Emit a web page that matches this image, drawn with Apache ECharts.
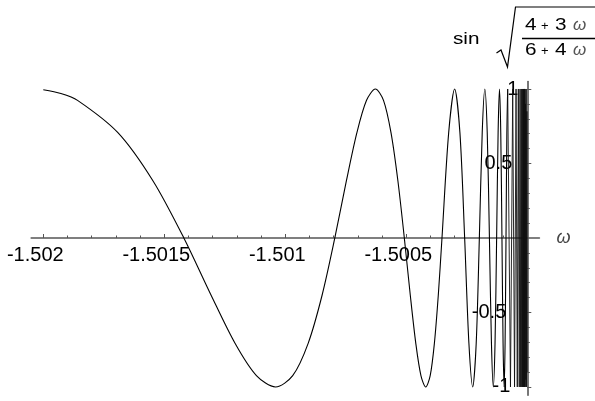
<!DOCTYPE html>
<html>
<head>
<meta charset="utf-8">
<script src="https://cdn.jsdelivr.net/npm/echarts@6/dist/echarts.min.js"></script>
<style>
  html, body { margin: 0; padding: 0; background: #fff; }
  #chart { width: 595px; height: 401px; }
</style>
</head>
<body>
<div id="chart"></div>
<script>
// Sample points of sin(sqrt((4+3w)/(6+4w))) as w runs from -1.502 up towards -1.5
const omega = [
  -1.502, -1.50192723, -1.50185853, -1.50169173, -1.50154648, -1.50141922,
  -1.50130708, -1.50120776, -1.50111936, -1.50104034, -1.50096942, -1.50090553,
  -1.50084775, -1.50079535, -1.50074766, -1.50070414, -1.50066433, -1.5006278,
  -1.5005942, -1.50056323, -1.50053463, -1.50050815, -1.50048359, -1.50046078,
  -1.50043954, -1.50041974, -1.50040125, -1.50038395, -1.50036775, -1.50035255,
  -1.50032486, -1.50030031, -1.50027844, -1.50025888, -1.5002413, -1.50022546,
  -1.50021113, -1.50019813, -1.50018629, -1.50017548, -1.50016559, -1.50015651,
  -1.50014815, -1.50014045, -1.50013334, -1.50012675, -1.50012064, -1.50011496,
  -1.50010967, -1.50010474, -1.50010013, -1.50009582, -1.50009179, -1.500088,
  -1.50008444, -1.5000811,
  -1.50006952, -1.50006026, -1.50005273, -1.50004653, -1.50004137, -1.50003701,
  -1.50003331, -1.50003014, -1.5000274, -1.50002502, -1.50002294, -1.5000211,
  -1.50001948, -1.50001804, -1.50001675, -1.50001559, -1.50001455, -1.50001362,
  -1.50001277, -1.50001199, -1.50001129, -1.50001064, -1.50001005, -1.50000951,
  -1.50000901,
  -1.5000075, -1.500006, -1.5000045, -1.500003, -1.5000018, -1.5000008
];
const sinValue = [
  0.9951, 0.9699, 0.9239, 0.7071, 0.3827, 0,
  -0.3827, -0.7071, -0.9239, -1, -0.9239, -0.7071,
  -0.3827, 0, 0.3827, 0.7071, 0.9239, 1,
  0.9239, 0.7071, 0.3827, 0, -0.3827, -0.7071,
  -0.9239, -1, -0.9239, -0.7071, -0.3827, 0,
  0.7071, 1, 0.7071, 0, -0.7071, -1,
  -0.7071, 0, 0.7071, 1, 0.7071, 0,
  -0.7071, -1, -0.7071, 0, 0.7071, 1,
  0.7071, 0, -0.7071, -1, -0.7071, 0,
  0.7071, 1,
  -1, 1, -1, 1, -1, 1,
  -1, 1, -1, 1, -1, 1,
  -1, 1, -1, 1, -1, 1,
  -1, 1, -1, 1, -1, 1,
  -1,
  0.9, -0.95, 1, -1, 0.85, -0.9
];
// the slow swings are drawn as a smooth curve, the crowded tail as straight strokes
const SMOOTH_END = 55;

// Axis ticks
const xMajorTicks = [-1.502, -1.5015, -1.501, -1.5005];
const xMinorTicks = [-1.5019, -1.5018, -1.5017, -1.5016, -1.5014, -1.5013, -1.5012, -1.5011,
                     -1.5009, -1.5008, -1.5007, -1.5006, -1.5004, -1.5003, -1.5002, -1.5001];
const yMajorTicks = [-1, -0.5, 0.5, 1];
const yMinorTicks = [-0.9, -0.8, -0.7, -0.6, -0.4, -0.3, -0.2, -0.1,
                     0.1, 0.2, 0.3, 0.4, 0.6, 0.7, 0.8, 0.9];

const FONT = '"Liberation Sans", Arial, Helvetica, sans-serif';
const AXIS_COLOR = '#555';
const X_MIN = -1.50205, X_MAX = -1.49995;
const Y_MIN = -1.055, Y_MAX = 1.05;

// plot box: the horizontal axis lives in its own grid whose bottom edge is y = 0
const PLOT = { left: 31.2, top: 81.55, width: 508.2, height: 313.6 };
const ZERO_Y_OFFSET = 156.45;

// extra right padding per y label
const yLabelShift = { '1': 0, '0.5': 6, '-0.5': 12, '-1': 8 };
const yRich = {};
Object.keys(yLabelShift).forEach(function (k) {
  yRich['s' + yLabelShift[k]] = {
    fontSize: 20, fontFamily: FONT, color: '#000',
    padding: [0, yLabelShift[k], 0, 0]
  };
});

const points = omega.map(function (w, i) { return [w, sinValue[i]]; });

const chart = echarts.init(document.getElementById('chart'), null, { renderer: 'canvas' });

const baseX = {
  type: 'value', min: X_MIN, max: X_MAX,
  splitLine: { show: false }
};
const baseY = {
  type: 'value', min: Y_MIN, max: Y_MAX, position: 'right', offset: -12.1,
  splitLine: { show: false },
  axisLine: { onZero: false, lineStyle: { color: AXIS_COLOR, width: 1.6 } }
};

chart.setOption({
  animation: false,
  backgroundColor: '#fff',
  grid: [
    Object.assign({ outerBoundsMode: 'none', containLabel: false }, PLOT),
    { outerBoundsMode: 'none', containLabel: false,
      left: PLOT.left, top: PLOT.top, width: PLOT.width, height: ZERO_Y_OFFSET }
  ],
  xAxis: [
    // series axis in the main grid (not drawn)
    Object.assign({}, baseX, { gridIndex: 0, show: false }),
    // horizontal axis with labels, sitting on y = 0
    Object.assign({}, baseX, {
      gridIndex: 1, position: 'bottom',
      name: 'ω', nameLocation: 'end', nameGap: 17,
      nameTextStyle: { fontFamily: FONT, fontSize: 18, fontStyle: 'italic', color: '#444', padding: [4, 0, 0, 0] },
      axisLine: { show: true, onZero: false, lineStyle: { color: AXIS_COLOR, width: 1.6 } },
      axisTick: { show: true, inside: true, length: 4, customValues: xMajorTicks,
                  lineStyle: { color: AXIS_COLOR, width: 1 } },
      axisLabel: { show: true, customValues: xMajorTicks, margin: 7,
                   fontFamily: FONT, fontSize: 20, color: '#000', padding: [0, 16, 0, 0] }
    }),
    // minor ticks on the same line
    Object.assign({}, baseX, {
      gridIndex: 1, position: 'bottom',
      axisLine: { show: false, onZero: false },
      axisTick: { show: true, inside: true, length: 2.5, customValues: xMinorTicks,
                  lineStyle: { color: AXIS_COLOR, width: 1 } },
      axisLabel: { show: false }
    })
  ],
  yAxis: [
    Object.assign({}, baseY, {
      gridIndex: 0,
      axisTick: { show: true, inside: false, length: 4, customValues: yMajorTicks,
                  lineStyle: { color: AXIS_COLOR, width: 1 } },
      axisLabel: {
        show: true, inside: true, margin: 9, customValues: yMajorTicks,
        fontFamily: FONT, fontSize: 20, color: '#000',
        formatter: function (v) {
          const t = String(v);
          return '{s' + yLabelShift[t] + '|' + t + '}';
        },
        rich: yRich
      }
    }),
    Object.assign({}, baseY, {
      gridIndex: 0,
      axisLine: { show: false },
      axisTick: { show: true, inside: false, length: 2.5, customValues: yMinorTicks,
                  lineStyle: { color: AXIS_COLOR, width: 1 } },
      axisLabel: { show: false }
    }),
    // placeholder for the axis grid
    { type: 'value', gridIndex: 1, min: 0, max: 1, show: false }
  ],
  series: [
    {
      type: 'line', xAxisIndex: 0, yAxisIndex: 0,
      data: points.slice(0, SMOOTH_END + 1),
      showSymbol: false, smooth: 0.3, clip: true,
      lineStyle: { color: '#000', width: 1.1 }, z: 3
    },
    {
      type: 'line', xAxisIndex: 0, yAxisIndex: 0,
      data: points.slice(SMOOTH_END),
      showSymbol: false, smooth: false, clip: true,
      lineStyle: { color: '#111', width: 0.9 }, z: 3
    }
  ],
  graphic: [
    { type: 'text', x: 453, y: 39.5, scaleX: 1.22,
      style: { text: 'sin', fontSize: 17, fontFamily: FONT, fill: '#000', verticalAlign: 'middle', align: 'left' } },
    { type: 'polyline',
      shape: { points: [[496.5, 53], [501, 50], [507.5, 67], [515.5, 7], [595, 7]] },
      style: { stroke: '#000', lineWidth: 1.2, fill: null } },
    { type: 'line', shape: { x1: 522, y1: 38.5, x2: 595, y2: 38.5 },
      style: { stroke: '#000', lineWidth: 1.3 } },
    // numerator
    { type: 'text', x: 525, y: 25.5, scaleX: 1.22,
      style: { text: '4', fontSize: 17, fontFamily: FONT, fill: '#000', verticalAlign: 'middle' } },
    { type: 'text', x: 541, y: 26, style: { text: '+', fontSize: 13, fontFamily: FONT, fill: '#000', verticalAlign: 'middle' } },
    { type: 'text', x: 555, y: 25.5, scaleX: 1.22,
      style: { text: '3', fontSize: 17, fontFamily: FONT, fill: '#000', verticalAlign: 'middle' } },
    { type: 'text', x: 573, y: 25.5,
      style: { text: 'ω', fontSize: 17, fontFamily: FONT, fontStyle: 'italic', fill: '#555', verticalAlign: 'middle' } },
    // denominator
    { type: 'text', x: 525, y: 50.5, scaleX: 1.22,
      style: { text: '6', fontSize: 17, fontFamily: FONT, fill: '#000', verticalAlign: 'middle' } },
    { type: 'text', x: 541, y: 51, style: { text: '+', fontSize: 13, fontFamily: FONT, fill: '#000', verticalAlign: 'middle' } },
    { type: 'text', x: 555, y: 50.5, scaleX: 1.22,
      style: { text: '4', fontSize: 17, fontFamily: FONT, fill: '#000', verticalAlign: 'middle' } },
    { type: 'text', x: 573, y: 50.5,
      style: { text: 'ω', fontSize: 17, fontFamily: FONT, fontStyle: 'italic', fill: '#555', verticalAlign: 'middle' } }
  ]
});
</script>
</body>
</html>
